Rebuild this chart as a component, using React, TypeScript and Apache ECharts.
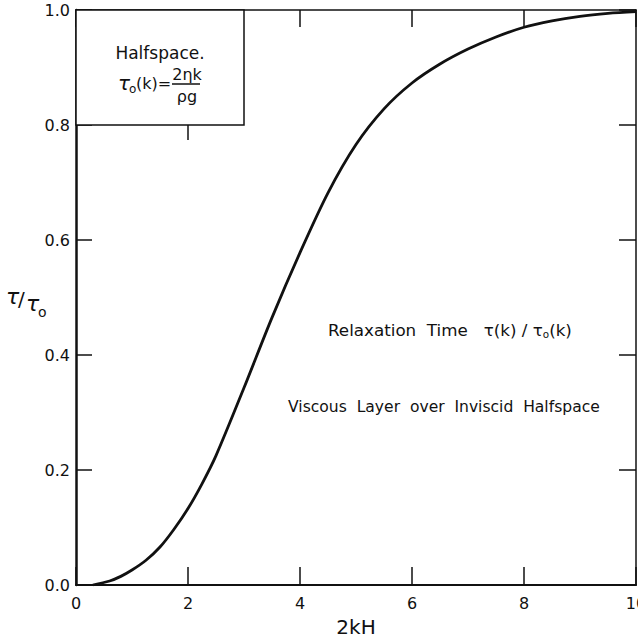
import React, { useEffect, useRef } from "react";
import * as echarts from "echarts";

const xValues = [0.3, 0.6, 0.8, 1.0, 1.25, 1.5, 1.75, 2.0, 2.25, 2.5, 3.0, 3.5, 4.0, 4.5, 5.0, 5.5, 6.0, 6.5, 7.0, 7.5, 8.0, 8.5, 9.0, 9.5, 10];
const tauRatio = [0, 0.007, 0.015, 0.026, 0.043, 0.066, 0.097, 0.133, 0.176, 0.225, 0.343, 0.465, 0.578, 0.682, 0.766, 0.828, 0.873, 0.906, 0.932, 0.953, 0.970, 0.981, 0.989, 0.994, 0.997];
const xTicks = [0, 2, 4, 6, 8, 10];
const yTickLabels = ["0.0", "0.2", "0.4", "0.6", "0.8", "1.0"];
const boxRange = { x0: 0, x1: 3, y0: 0.8, y1: 1.0 };

const FONT = "DejaVu Sans";
const INK = "#111";

function measure(text: string, size: number, style = "normal"): number {
  const c = document.createElement("canvas").getContext("2d");
  if (!c) return text.length * size * 0.55;
  c.font = `${style} ${size}px "${FONT}"`;
  return c.measureText(text).width;
}

export default function App() {
  const ref = useRef<HTMLDivElement>(null);
  useEffect(() => {
    if (!ref.current) return;
    const chart = echarts.init(ref.current, null, { renderer: "svg" });
    const data = xValues.map((x, i) => [x, tauRatio[i]]);
    const axisCommon = { min: 0, splitLine: { show: false } };
    chart.setOption({
      animation: false,
      backgroundColor: "#fff",
      grid: { left: 76, right: 2, top: 10, bottom: 55, containLabel: false, outerBoundsMode: "none" },
      xAxis: [
        {
          ...axisCommon,
          type: "value",
          max: 10,
          interval: 2,
          position: "bottom",
          name: "2kH",
          nameLocation: "middle",
          nameGap: 32,
          nameTextStyle: { fontFamily: FONT, fontSize: 20, color: INK },
          axisLine: { show: true, onZero: false, lineStyle: { color: INK, width: 2.2 } },
          axisTick: { show: true, inside: true, length: 18, lineStyle: { color: INK, width: 1.5 } },
          axisLabel: {
            show: true,
            fontFamily: FONT,
            fontSize: 16,
            color: INK,
            margin: 10,
            showMaxLabel: true,
            showMinLabel: true,
            formatter: (v: number) => (xTicks.includes(v) ? String(v) : ""),
          },
        },
        {
          ...axisCommon,
          type: "value",
          max: 10,
          interval: 2,
          position: "top",
          axisLine: { show: true, onZero: false, lineStyle: { color: INK, width: 1.5 } },
          axisTick: { show: true, inside: true, length: 17, lineStyle: { color: INK, width: 1.5 } },
          axisLabel: { show: false },
        },
      ],
      yAxis: [
        {
          ...axisCommon,
          type: "value",
          max: 1,
          interval: 0.2,
          position: "left",
          axisLine: { show: true, onZero: false, lineStyle: { color: INK, width: 2.5 } },
          axisTick: { show: true, inside: true, length: 16, lineStyle: { color: INK, width: 1.5 } },
          axisLabel: {
            show: true,
            fontFamily: FONT,
            fontSize: 16,
            color: INK,
            margin: 6,
            formatter: (v: number) => yTickLabels[Math.round(v * 5)] ?? "",
          },
        },
        {
          ...axisCommon,
          type: "value",
          max: 1,
          interval: 0.2,
          position: "right",
          axisLine: { show: true, onZero: false, lineStyle: { color: INK, width: 1.5 } },
          axisTick: { show: true, inside: true, length: 17, lineStyle: { color: INK, width: 1.5 } },
          axisLabel: { show: false },
        },
      ],
      series: [
        {
          type: "line",
          xAxisIndex: 0,
          yAxisIndex: 0,
          data,
          smooth: 0.3,
          symbol: "none",
          lineStyle: { color: INK, width: 2.8 },
          z: 3,
          markArea: {
            silent: true,
            itemStyle: { color: "#fff", borderColor: INK, borderWidth: 1.5 },
            label: { show: false },
            data: [[{ coord: [boxRange.x0, boxRange.y1] }, { coord: [boxRange.x1, boxRange.y0] }]],
            z: 5,
          },
        },
      ],
    });

    const tl = chart.convertToPixel({ gridIndex: 0 }, [boxRange.x0, boxRange.y1]) as number[];
    const br = chart.convertToPixel({ gridIndex: 0 }, [boxRange.x1, boxRange.y0]) as number[];
    const tick2 = chart.convertToPixel({ gridIndex: 0 }, [2, boxRange.y0]) as number[];
    const relaxAnchor = chart.convertToPixel({ gridIndex: 0 }, [4.5, 0.443]) as number[];
    const viscAnchor = chart.convertToPixel({ gridIndex: 0 }, [6.57, 0.31]) as number[];
    const yMid = chart.convertToPixel({ gridIndex: 0 }, [0, 0.487]) as number[];
    const bx = (tl[0] + br[0]) / 2;
    const by = tl[1];

    const txt = (x: number, y: number, text: string, size: number, extra: any = {}) => ({
      type: "text",
      x,
      y,
      z: 10,
      style: {
        text,
        fontFamily: FONT,
        fontSize: size,
        fill: INK,
        textAlign: "left",
        textVerticalAlign: "middle",
        ...extra,
      },
    });

    const relA = "Relaxation  Time   τ(k) / τ";
    const relC = "(k)";
    const relW16 = measure(relA, 16) + measure("o", 10) + measure(relC, 16);
    const rs = Math.max(14, Math.min(18, (16 * 244) / relW16));
    const subS = rs * 0.62;
    const wA = measure(relA, rs);
    const wO = measure("o", subS);
    const rx = relaxAnchor[0];
    const ry = relaxAnchor[1];

    const visc = "Viscous  Layer  over  Inviscid  Halfspace";
    const vs = Math.max(14, Math.min(18, (16 * 312) / measure(visc, 16)));

    chart.setOption({
      graphic: [
        {
          type: "line",
          z: 10,
          shape: { x1: tick2[0], y1: tick2[1], x2: tick2[0], y2: tick2[1] + 15 },
          style: { stroke: INK, lineWidth: 1.5 },
        },
        txt(bx, by + 43, "Halfspace.", 17, { textAlign: "center" }),
        txt(bx - 42, by + 73, "τ", 20, { fontStyle: "italic" }),
        txt(bx - 31, by + 79, "o", 12),
        txt(bx - 24, by + 73, "(k)=", 16),
        txt(bx + 27, by + 64, "2ηk", 16, { textAlign: "center" }),
        {
          type: "line",
          z: 10,
          shape: { x1: bx + 12, y1: by + 74, x2: bx + 40, y2: by + 74 },
          style: { stroke: INK, lineWidth: 1.5 },
        },
        txt(bx + 27, by + 86, "ρg", 16, { textAlign: "center" }),
        txt(yMid[0] - 70, yMid[1] - 8, "τ", 22, { fontStyle: "italic" }),
        txt(yMid[0] - 58, yMid[1] - 6, "/", 20),
        txt(yMid[0] - 50, yMid[1] - 1, "τ", 22, { fontStyle: "italic" }),
        txt(yMid[0] - 38, yMid[1] + 7, "o", 14),
        txt(rx, ry, relA, rs),
        txt(rx + wA, ry + 4, "o", subS),
        txt(rx + wA + wO, ry, relC, rs),
        txt(viscAnchor[0], viscAnchor[1], visc, vs, { textAlign: "center" }),
      ],
    });

    return () => chart.dispose();
  }, []);

  return (
    <div
      ref={ref}
      style={{ position: "fixed", left: 0, top: 0, width: 638, height: 640, background: "#fff" }}
    />
  );
}
